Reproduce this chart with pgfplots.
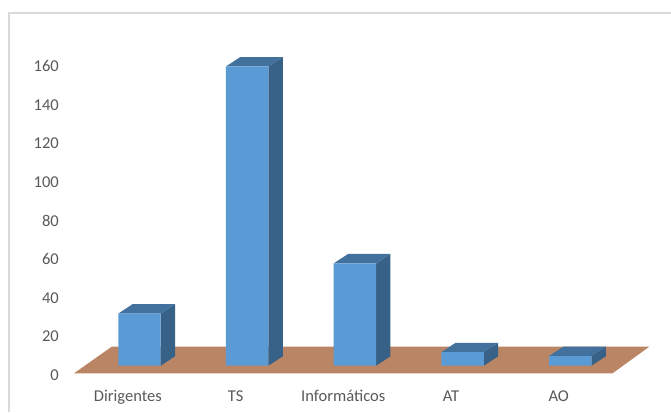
\documentclass[border=0pt]{standalone}
\usepackage{pgfplots}
\usepackage{pgfplotstable}
\pgfplotsset{compat=1.18}
\usepackage{fontspec}
\setmainfont{Carlito}

\definecolor{barfront}{RGB}{91,155,213}
\definecolor{barside}{RGB}{56,97,136}
\definecolor{bartop}{RGB}{65,113,156}
\definecolor{floorbrown}{RGB}{185,133,101}
\definecolor{labelgray}{RGB}{89,89,89}
\definecolor{framegray}{RGB}{217,217,217}

% staff by category
\pgfplotstableread{
x v
0 27
1 155
2 53
3 7
4 5
}\staff

% geometry of the oblique boxes (axis units)
\def\barshift{0.108}
\def\halfw{0.197}
\def\dpx{0.133}
\def\dpy{4.87}

\begin{document}
\begin{tikzpicture}
\useasboundingbox (0,0) rectangle (503.25pt,309pt);
% chart area border
\draw[framegray, line width=1.2pt] (6.75pt,0pt) -- (6.75pt,299.25pt) -- (503.25pt,299.25pt);
\begin{axis}[
  at={(45.83pt,29.03pt)}, anchor=south west,
  x=80.775pt, y=1.448pt,
  xmin=-0.62, xmax=4.85,
  ymin=-3.94, ymax=170,
  clip=false,
  axis line style={draw=none},
  major tick length=0pt,
  xtick={0,...,4},
  xticklabels={Dirigentes,TS,Informáticos,AT,AO},
  ytick={0,20,...,160},
  /pgf/number format/assume math mode=true,
  tick label style={font=\fontsize{12.4}{14}\selectfont, text=labelgray},
  xticklabel style={anchor=base, yshift=-20.8pt},
  yticklabel style={xshift=1.8pt, yshift=-7pt},
]
% floor
\addplot[fill=floorbrown, draw=none] coordinates {(-0.5,-3.94) (4.5,-3.94) (4.841,9.84) (-0.15,9.84)};

% side and top faces of each column
\pgfplotsforeachungrouped \r in {0,...,4}{%
  \pgfplotstablegetelem{\r}{x}\of\staff \let\cx\pgfplotsretval
  \pgfplotstablegetelem{\r}{v}\of\staff \let\cv\pgfplotsretval
  \pgfmathsetmacro\xl{\cx+\barshift-\halfw}
  \pgfmathsetmacro\xr{\cx+\barshift+\halfw}
  \pgfmathsetmacro\xlb{\xl+\dpx}
  \pgfmathsetmacro\xrb{\xr+\dpx}
  \pgfmathsetmacro\vb{\cv+\dpy}
  \edef\faces{%
    \noexpand\addplot[fill=barside, draw=none] coordinates {(\xr,0) (\xrb,\dpy) (\xrb,\vb) (\xr,\cv)};
    \noexpand\addplot[fill=bartop, draw=none] coordinates {(\xl,\cv) (\xr,\cv) (\xrb,\vb) (\xlb,\vb)};
  }\faces
}

% front faces
\addplot[ybar, bar width=0.394, bar shift=0.108, fill=barfront, draw=none] table[x=x, y=v] {\staff};
\end{axis}
\end{tikzpicture}
\end{document}
